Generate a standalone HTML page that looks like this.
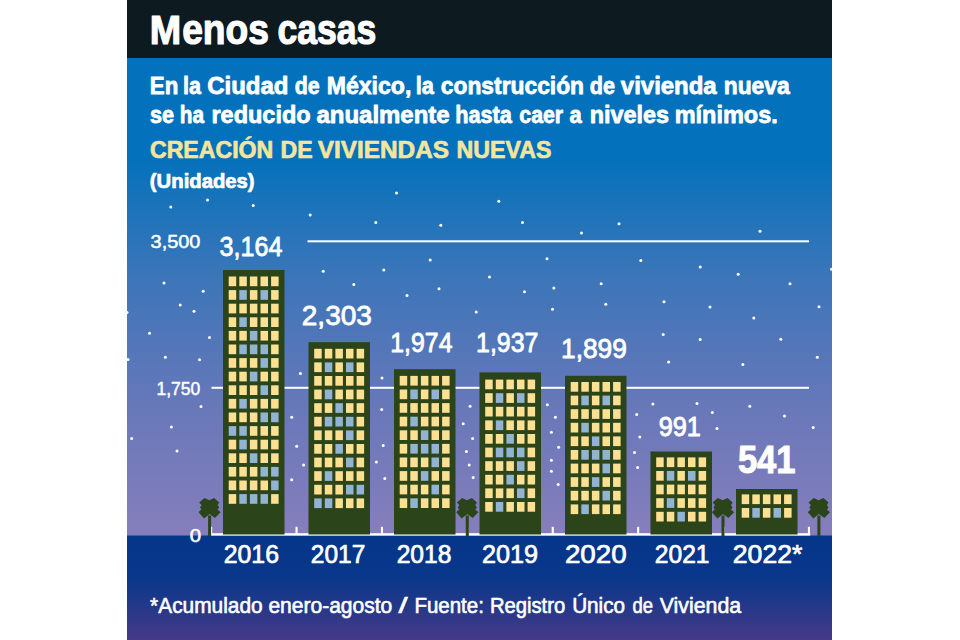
<!DOCTYPE html>
<html lang="es"><head><meta charset="utf-8"><title>Menos casas</title>
<style>
html,body{margin:0;padding:0;background:#fff;}
body{width:960px;height:640px;overflow:hidden;position:relative;}
svg{position:absolute;left:0;top:0;display:block;}
text,tspan{font-family:"Liberation Sans",sans-serif;fill:#fff;}
.b{font-weight:bold;}
</style></head><body>
<svg width="960" height="640" viewBox="0 0 960 640">
<defs>
<linearGradient id="sky" x1="0" y1="0" x2="0" y2="1">
<stop offset="0" stop-color="#0371bb"/>
<stop offset="0.205" stop-color="#0371bb"/>
<stop offset="0.297" stop-color="#1873ba"/>
<stop offset="0.448" stop-color="#3a75b9"/>
<stop offset="0.747" stop-color="#6a78b9"/>
<stop offset="1" stop-color="#877ebc"/>
</linearGradient>
<linearGradient id="gnd" x1="0" y1="0" x2="0" y2="1">
<stop offset="0" stop-color="#04368a"/>
<stop offset="0.42" stop-color="#0a378a"/>
<stop offset="1" stop-color="#453a87"/>
</linearGradient>

</defs>
<rect x="127" y="0" width="705" height="58" fill="#0d1a20"/>
<rect x="127" y="58" width="705" height="478" fill="url(#sky)"/>
<rect x="127" y="535.5" width="705" height="104.5" fill="url(#gnd)"/>

<g fill="#fff">
<circle cx="170.8" cy="207.0" r="1.5"/>
<circle cx="207.5" cy="200.0" r="1.5"/>
<circle cx="253.2" cy="205.5" r="1.5"/>
<circle cx="310.2" cy="215.0" r="1.5"/>
<circle cx="323.2" cy="271.2" r="1.5"/>
<circle cx="353.8" cy="284.5" r="1.5"/>
<circle cx="164.0" cy="283.0" r="1.5"/>
<circle cx="203.2" cy="291.2" r="1.5"/>
<circle cx="180.2" cy="305.0" r="1.5"/>
<circle cx="194.0" cy="311.2" r="1.5"/>
<circle cx="127.0" cy="312.5" r="1.5"/>
<circle cx="149.5" cy="333.2" r="1.5"/>
<circle cx="209.5" cy="337.5" r="1.5"/>
<circle cx="396.5" cy="193.0" r="1.5"/>
<circle cx="498.8" cy="201.2" r="1.5"/>
<circle cx="375.8" cy="222.5" r="1.5"/>
<circle cx="440.8" cy="225.2" r="1.5"/>
<circle cx="522.5" cy="222.5" r="1.5"/>
<circle cx="581.5" cy="233.0" r="1.5"/>
<circle cx="430.2" cy="260.0" r="1.5"/>
<circle cx="383.8" cy="270.0" r="1.5"/>
<circle cx="547.0" cy="258.8" r="1.5"/>
<circle cx="489.5" cy="277.0" r="1.5"/>
<circle cx="439.0" cy="288.8" r="1.5"/>
<circle cx="407.0" cy="295.5" r="1.5"/>
<circle cx="524.5" cy="291.8" r="1.5"/>
<circle cx="553.8" cy="288.0" r="1.5"/>
<circle cx="601.2" cy="283.8" r="1.5"/>
<circle cx="476.2" cy="312.0" r="1.5"/>
<circle cx="552.5" cy="309.2" r="1.5"/>
<circle cx="605.8" cy="304.2" r="1.5"/>
<circle cx="619.0" cy="223.8" r="1.5"/>
<circle cx="760.0" cy="231.2" r="1.5"/>
<circle cx="640.8" cy="260.5" r="1.5"/>
<circle cx="700.2" cy="267.0" r="1.5"/>
<circle cx="738.2" cy="274.2" r="1.5"/>
<circle cx="790.0" cy="283.8" r="1.5"/>
<circle cx="831.5" cy="269.2" r="1.5"/>
<circle cx="664.0" cy="301.8" r="1.5"/>
<circle cx="710.0" cy="307.0" r="1.5"/>
<circle cx="819.0" cy="306.8" r="1.5"/>
<circle cx="753.8" cy="318.0" r="1.5"/>
<circle cx="663.2" cy="334.5" r="1.5"/>
<circle cx="700.2" cy="339.5" r="1.5"/>
<circle cx="780.8" cy="339.2" r="1.5"/>
<circle cx="128.0" cy="359.4" r="1.5"/>
<circle cx="165.4" cy="357.2" r="1.5"/>
<circle cx="199.5" cy="359.7" r="1.5"/>
<circle cx="300.4" cy="373.4" r="1.5"/>
<circle cx="201.0" cy="406.6" r="1.5"/>
<circle cx="171.4" cy="426.9" r="1.5"/>
<circle cx="291.7" cy="417.2" r="1.5"/>
<circle cx="131.7" cy="438.4" r="1.5"/>
<circle cx="177.0" cy="450.9" r="1.5"/>
<circle cx="296.7" cy="446.2" r="1.5"/>
<circle cx="303.6" cy="465.0" r="1.5"/>
<circle cx="291.7" cy="479.7" r="1.5"/>
<circle cx="382.0" cy="378.1" r="1.5"/>
<circle cx="381.7" cy="409.4" r="1.5"/>
<circle cx="383.2" cy="445.6" r="1.5"/>
<circle cx="376.4" cy="461.9" r="1.5"/>
<circle cx="384.8" cy="478.4" r="1.5"/>
<circle cx="470.1" cy="406.2" r="1.5"/>
<circle cx="463.2" cy="423.8" r="1.5"/>
<circle cx="472.6" cy="438.4" r="1.5"/>
<circle cx="466.4" cy="451.6" r="1.5"/>
<circle cx="469.2" cy="465.0" r="1.5"/>
<circle cx="473.2" cy="477.5" r="1.5"/>
<circle cx="547.3" cy="404.7" r="1.5"/>
<circle cx="555.4" cy="417.2" r="1.5"/>
<circle cx="551.4" cy="432.2" r="1.5"/>
<circle cx="558.6" cy="447.2" r="1.5"/>
<circle cx="551.4" cy="460.3" r="1.5"/>
<circle cx="551.4" cy="471.2" r="1.5"/>
<circle cx="558.2" cy="484.4" r="1.5"/>
<circle cx="668.6" cy="361.9" r="1.5"/>
<circle cx="742.9" cy="364.4" r="1.5"/>
<circle cx="817.3" cy="357.2" r="1.5"/>
<circle cx="652.9" cy="404.1" r="1.5"/>
<circle cx="697.0" cy="403.4" r="1.5"/>
<circle cx="749.8" cy="406.2" r="1.5"/>
<circle cx="636.7" cy="414.4" r="1.5"/>
<circle cx="712.3" cy="412.5" r="1.5"/>
<circle cx="784.5" cy="415.9" r="1.5"/>
<circle cx="717.0" cy="428.4" r="1.5"/>
<circle cx="813.2" cy="427.5" r="1.5"/>
<circle cx="639.8" cy="436.9" r="1.5"/>
<circle cx="634.5" cy="452.5" r="1.5"/>
<circle cx="637.6" cy="467.5" r="1.5"/>
</g>
<rect x="307.5" y="240.3" width="501.5" height="2" fill="#fff"/>
<rect x="211.5" y="386.8" width="597.5" height="2" fill="#fff"/>
<rect x="210.2" y="533.2" width="600" height="2.4" fill="#fff"/>
<rect x="210.1" y="526.8" width="2.1" height="7" fill="#fff"/>
<rect x="295.5" y="526.8" width="2.1" height="7" fill="#fff"/>
<rect x="380.9" y="526.8" width="2.1" height="7" fill="#fff"/>
<rect x="466.3" y="526.8" width="2.1" height="7" fill="#fff"/>
<rect x="551.7" y="526.8" width="2.1" height="7" fill="#fff"/>
<rect x="637.1" y="526.8" width="2.1" height="7" fill="#fff"/>
<rect x="722.5" y="526.8" width="2.1" height="7" fill="#fff"/>
<rect x="807.9" y="526.8" width="2.1" height="7" fill="#fff"/>
<g transform="translate(209.6 535.5)"><rect x="-1.5" y="-20" width="3" height="20.5" fill="#2b4419"/>
<polygon fill="#2b4419" points="-5.2,-37.6 -0.3,-35.3 4.6,-37.6 9.6,-33 8,-30.5 9.6,-28 8,-26 11,-23.3 5.4,-17.6 0,-21.5 -5.6,-17 -11,-23.3 -8.2,-26.3 -9.6,-28 -8,-30.5 -10.4,-33"/></g>
<g transform="translate(467.3 535.5)"><rect x="-1.5" y="-20" width="3" height="20.5" fill="#2b4419"/>
<polygon fill="#2b4419" points="-5.2,-37.6 -0.3,-35.3 4.6,-37.6 9.6,-33 8,-30.5 9.6,-28 8,-26 11,-23.3 5.4,-17.6 0,-21.5 -5.6,-17 -11,-23.3 -8.2,-26.3 -9.6,-28 -8,-30.5 -10.4,-33"/></g>
<g transform="translate(723.0 535.5)"><rect x="-1.5" y="-20" width="3" height="20.5" fill="#2b4419"/>
<polygon fill="#2b4419" points="-5.2,-37.6 -0.3,-35.3 4.6,-37.6 9.6,-33 8,-30.5 9.6,-28 8,-26 11,-23.3 5.4,-17.6 0,-21.5 -5.6,-17 -11,-23.3 -8.2,-26.3 -9.6,-28 -8,-30.5 -10.4,-33"/></g>
<g transform="translate(818.9 535.5)"><rect x="-1.5" y="-20" width="3" height="20.5" fill="#2b4419"/>
<polygon fill="#2b4419" points="-5.2,-37.6 -0.3,-35.3 4.6,-37.6 9.6,-33 8,-30.5 9.6,-28 8,-26 11,-23.3 5.4,-17.6 0,-21.5 -5.6,-17 -11,-23.3 -8.2,-26.3 -9.6,-28 -8,-30.5 -10.4,-33"/></g>
<rect x="223.0" y="270.0" width="61.5" height="264.5" fill="#2b4419"/>
<g fill="#fde092"><rect x="228.7" y="276.5" width="7.5" height="9.7"/><rect x="239.3" y="276.5" width="7.5" height="9.7"/><rect x="249.9" y="276.5" width="7.5" height="9.7"/><rect x="260.5" y="276.5" width="7.5" height="9.7"/><rect x="271.1" y="276.5" width="7.5" height="9.7"/><rect x="228.7" y="290.1" width="7.5" height="9.7"/><rect x="249.9" y="290.1" width="7.5" height="9.7"/><rect x="271.1" y="290.1" width="7.5" height="9.7"/><rect x="228.7" y="303.7" width="7.5" height="9.7"/><rect x="239.3" y="303.7" width="7.5" height="9.7"/><rect x="249.9" y="303.7" width="7.5" height="9.7"/><rect x="260.5" y="303.7" width="7.5" height="9.7"/><rect x="271.1" y="303.7" width="7.5" height="9.7"/><rect x="228.7" y="317.3" width="7.5" height="9.7"/><rect x="249.9" y="317.3" width="7.5" height="9.7"/><rect x="260.5" y="317.3" width="7.5" height="9.7"/><rect x="271.1" y="317.3" width="7.5" height="9.7"/><rect x="228.7" y="330.9" width="7.5" height="9.7"/><rect x="239.3" y="330.9" width="7.5" height="9.7"/><rect x="260.5" y="330.9" width="7.5" height="9.7"/><rect x="271.1" y="330.9" width="7.5" height="9.7"/><rect x="228.7" y="344.5" width="7.5" height="9.7"/><rect x="271.1" y="344.5" width="7.5" height="9.7"/><rect x="228.7" y="358.1" width="7.5" height="9.7"/><rect x="239.3" y="358.1" width="7.5" height="9.7"/><rect x="249.9" y="358.1" width="7.5" height="9.7"/><rect x="271.1" y="358.1" width="7.5" height="9.7"/><rect x="228.7" y="371.7" width="7.5" height="9.7"/><rect x="239.3" y="371.7" width="7.5" height="9.7"/><rect x="260.5" y="371.7" width="7.5" height="9.7"/><rect x="271.1" y="371.7" width="7.5" height="9.7"/><rect x="228.7" y="385.3" width="7.5" height="9.7"/><rect x="239.3" y="385.3" width="7.5" height="9.7"/><rect x="249.9" y="385.3" width="7.5" height="9.7"/><rect x="271.1" y="385.3" width="7.5" height="9.7"/><rect x="228.7" y="398.9" width="7.5" height="9.7"/><rect x="249.9" y="398.9" width="7.5" height="9.7"/><rect x="260.5" y="398.9" width="7.5" height="9.7"/><rect x="271.1" y="398.9" width="7.5" height="9.7"/><rect x="228.7" y="412.5" width="7.5" height="9.7"/><rect x="239.3" y="412.5" width="7.5" height="9.7"/><rect x="249.9" y="412.5" width="7.5" height="9.7"/><rect x="249.9" y="426.1" width="7.5" height="9.7"/><rect x="260.5" y="426.1" width="7.5" height="9.7"/><rect x="271.1" y="426.1" width="7.5" height="9.7"/><rect x="228.7" y="439.7" width="7.5" height="9.7"/><rect x="249.9" y="439.7" width="7.5" height="9.7"/><rect x="260.5" y="439.7" width="7.5" height="9.7"/><rect x="271.1" y="439.7" width="7.5" height="9.7"/><rect x="228.7" y="453.3" width="7.5" height="9.7"/><rect x="239.3" y="453.3" width="7.5" height="9.7"/><rect x="260.5" y="453.3" width="7.5" height="9.7"/><rect x="271.1" y="453.3" width="7.5" height="9.7"/><rect x="228.7" y="466.9" width="7.5" height="9.7"/><rect x="239.3" y="466.9" width="7.5" height="9.7"/><rect x="249.9" y="466.9" width="7.5" height="9.7"/><rect x="228.7" y="480.5" width="7.5" height="9.7"/><rect x="239.3" y="480.5" width="7.5" height="9.7"/><rect x="249.9" y="480.5" width="7.5" height="9.7"/><rect x="260.5" y="480.5" width="7.5" height="9.7"/><rect x="228.7" y="494.1" width="7.5" height="9.7"/><rect x="271.1" y="494.1" width="7.5" height="9.7"/></g>
<g fill="#93b3d3"><rect x="239.3" y="290.1" width="7.5" height="9.7"/><rect x="260.5" y="290.1" width="7.5" height="9.7"/><rect x="239.3" y="317.3" width="7.5" height="9.7"/><rect x="249.9" y="330.9" width="7.5" height="9.7"/><rect x="239.3" y="344.5" width="7.5" height="9.7"/><rect x="249.9" y="344.5" width="7.5" height="9.7"/><rect x="260.5" y="344.5" width="7.5" height="9.7"/><rect x="260.5" y="358.1" width="7.5" height="9.7"/><rect x="249.9" y="371.7" width="7.5" height="9.7"/><rect x="260.5" y="385.3" width="7.5" height="9.7"/><rect x="239.3" y="398.9" width="7.5" height="9.7"/><rect x="260.5" y="412.5" width="7.5" height="9.7"/><rect x="271.1" y="412.5" width="7.5" height="9.7"/><rect x="228.7" y="426.1" width="7.5" height="9.7"/><rect x="239.3" y="426.1" width="7.5" height="9.7"/><rect x="239.3" y="439.7" width="7.5" height="9.7"/><rect x="249.9" y="453.3" width="7.5" height="9.7"/><rect x="260.5" y="466.9" width="7.5" height="9.7"/><rect x="271.1" y="466.9" width="7.5" height="9.7"/><rect x="271.1" y="480.5" width="7.5" height="9.7"/><rect x="239.3" y="494.1" width="7.5" height="9.7"/><rect x="249.9" y="494.1" width="7.5" height="9.7"/><rect x="260.5" y="494.1" width="7.5" height="9.7"/></g>
<rect x="308.5" y="342.2" width="61.5" height="192.3" fill="#2b4419"/>
<g fill="#fde092"><rect x="314.2" y="348.8" width="7.5" height="9.7"/><rect x="324.8" y="348.8" width="7.5" height="9.7"/><rect x="335.4" y="348.8" width="7.5" height="9.7"/><rect x="346.0" y="348.8" width="7.5" height="9.7"/><rect x="356.6" y="348.8" width="7.5" height="9.7"/><rect x="314.2" y="362.4" width="7.5" height="9.7"/><rect x="335.4" y="362.4" width="7.5" height="9.7"/><rect x="356.6" y="362.4" width="7.5" height="9.7"/><rect x="314.2" y="376.0" width="7.5" height="9.7"/><rect x="324.8" y="376.0" width="7.5" height="9.7"/><rect x="335.4" y="376.0" width="7.5" height="9.7"/><rect x="346.0" y="376.0" width="7.5" height="9.7"/><rect x="356.6" y="376.0" width="7.5" height="9.7"/><rect x="314.2" y="389.6" width="7.5" height="9.7"/><rect x="335.4" y="389.6" width="7.5" height="9.7"/><rect x="346.0" y="389.6" width="7.5" height="9.7"/><rect x="356.6" y="389.6" width="7.5" height="9.7"/><rect x="314.2" y="403.2" width="7.5" height="9.7"/><rect x="324.8" y="403.2" width="7.5" height="9.7"/><rect x="346.0" y="403.2" width="7.5" height="9.7"/><rect x="356.6" y="403.2" width="7.5" height="9.7"/><rect x="314.2" y="416.8" width="7.5" height="9.7"/><rect x="356.6" y="416.8" width="7.5" height="9.7"/><rect x="314.2" y="430.4" width="7.5" height="9.7"/><rect x="324.8" y="430.4" width="7.5" height="9.7"/><rect x="335.4" y="430.4" width="7.5" height="9.7"/><rect x="356.6" y="430.4" width="7.5" height="9.7"/><rect x="314.2" y="444.0" width="7.5" height="9.7"/><rect x="324.8" y="444.0" width="7.5" height="9.7"/><rect x="346.0" y="444.0" width="7.5" height="9.7"/><rect x="356.6" y="444.0" width="7.5" height="9.7"/><rect x="314.2" y="457.6" width="7.5" height="9.7"/><rect x="324.8" y="457.6" width="7.5" height="9.7"/><rect x="335.4" y="457.6" width="7.5" height="9.7"/><rect x="356.6" y="457.6" width="7.5" height="9.7"/><rect x="314.2" y="471.2" width="7.5" height="9.7"/><rect x="335.4" y="471.2" width="7.5" height="9.7"/><rect x="346.0" y="471.2" width="7.5" height="9.7"/><rect x="356.6" y="471.2" width="7.5" height="9.7"/><rect x="314.2" y="484.8" width="7.5" height="9.7"/><rect x="324.8" y="484.8" width="7.5" height="9.7"/><rect x="335.4" y="484.8" width="7.5" height="9.7"/><rect x="335.4" y="498.4" width="7.5" height="9.7"/><rect x="346.0" y="498.4" width="7.5" height="9.7"/><rect x="356.6" y="498.4" width="7.5" height="9.7"/></g>
<g fill="#93b3d3"><rect x="324.8" y="362.4" width="7.5" height="9.7"/><rect x="346.0" y="362.4" width="7.5" height="9.7"/><rect x="324.8" y="389.6" width="7.5" height="9.7"/><rect x="335.4" y="403.2" width="7.5" height="9.7"/><rect x="324.8" y="416.8" width="7.5" height="9.7"/><rect x="335.4" y="416.8" width="7.5" height="9.7"/><rect x="346.0" y="416.8" width="7.5" height="9.7"/><rect x="346.0" y="430.4" width="7.5" height="9.7"/><rect x="335.4" y="444.0" width="7.5" height="9.7"/><rect x="346.0" y="457.6" width="7.5" height="9.7"/><rect x="324.8" y="471.2" width="7.5" height="9.7"/><rect x="346.0" y="484.8" width="7.5" height="9.7"/><rect x="356.6" y="484.8" width="7.5" height="9.7"/><rect x="314.2" y="498.4" width="7.5" height="9.7"/><rect x="324.8" y="498.4" width="7.5" height="9.7"/></g>
<rect x="394.0" y="369.2" width="61.5" height="165.3" fill="#2b4419"/>
<g fill="#fde092"><rect x="399.7" y="375.9" width="7.5" height="9.7"/><rect x="410.3" y="375.9" width="7.5" height="9.7"/><rect x="420.9" y="375.9" width="7.5" height="9.7"/><rect x="431.5" y="375.9" width="7.5" height="9.7"/><rect x="442.1" y="375.9" width="7.5" height="9.7"/><rect x="399.7" y="389.5" width="7.5" height="9.7"/><rect x="420.9" y="389.5" width="7.5" height="9.7"/><rect x="442.1" y="389.5" width="7.5" height="9.7"/><rect x="399.7" y="403.1" width="7.5" height="9.7"/><rect x="410.3" y="403.1" width="7.5" height="9.7"/><rect x="420.9" y="403.1" width="7.5" height="9.7"/><rect x="431.5" y="403.1" width="7.5" height="9.7"/><rect x="442.1" y="403.1" width="7.5" height="9.7"/><rect x="399.7" y="416.7" width="7.5" height="9.7"/><rect x="420.9" y="416.7" width="7.5" height="9.7"/><rect x="431.5" y="416.7" width="7.5" height="9.7"/><rect x="442.1" y="416.7" width="7.5" height="9.7"/><rect x="399.7" y="430.3" width="7.5" height="9.7"/><rect x="410.3" y="430.3" width="7.5" height="9.7"/><rect x="431.5" y="430.3" width="7.5" height="9.7"/><rect x="442.1" y="430.3" width="7.5" height="9.7"/><rect x="399.7" y="443.9" width="7.5" height="9.7"/><rect x="442.1" y="443.9" width="7.5" height="9.7"/><rect x="399.7" y="457.5" width="7.5" height="9.7"/><rect x="410.3" y="457.5" width="7.5" height="9.7"/><rect x="420.9" y="457.5" width="7.5" height="9.7"/><rect x="442.1" y="457.5" width="7.5" height="9.7"/><rect x="399.7" y="471.1" width="7.5" height="9.7"/><rect x="410.3" y="471.1" width="7.5" height="9.7"/><rect x="431.5" y="471.1" width="7.5" height="9.7"/><rect x="442.1" y="471.1" width="7.5" height="9.7"/><rect x="399.7" y="484.7" width="7.5" height="9.7"/><rect x="410.3" y="484.7" width="7.5" height="9.7"/><rect x="420.9" y="484.7" width="7.5" height="9.7"/><rect x="442.1" y="484.7" width="7.5" height="9.7"/><rect x="399.7" y="498.3" width="7.5" height="9.7"/><rect x="420.9" y="498.3" width="7.5" height="9.7"/><rect x="431.5" y="498.3" width="7.5" height="9.7"/><rect x="442.1" y="498.3" width="7.5" height="9.7"/></g>
<g fill="#93b3d3"><rect x="410.3" y="389.5" width="7.5" height="9.7"/><rect x="431.5" y="389.5" width="7.5" height="9.7"/><rect x="410.3" y="416.7" width="7.5" height="9.7"/><rect x="420.9" y="430.3" width="7.5" height="9.7"/><rect x="410.3" y="443.9" width="7.5" height="9.7"/><rect x="420.9" y="443.9" width="7.5" height="9.7"/><rect x="431.5" y="443.9" width="7.5" height="9.7"/><rect x="431.5" y="457.5" width="7.5" height="9.7"/><rect x="420.9" y="471.1" width="7.5" height="9.7"/><rect x="431.5" y="484.7" width="7.5" height="9.7"/><rect x="410.3" y="498.3" width="7.5" height="9.7"/></g>
<rect x="479.5" y="372.4" width="61.5" height="162.1" fill="#2b4419"/>
<g fill="#fde092"><rect x="485.2" y="379.6" width="7.5" height="9.7"/><rect x="495.8" y="379.6" width="7.5" height="9.7"/><rect x="506.4" y="379.6" width="7.5" height="9.7"/><rect x="517.0" y="379.6" width="7.5" height="9.7"/><rect x="527.6" y="379.6" width="7.5" height="9.7"/><rect x="485.2" y="393.2" width="7.5" height="9.7"/><rect x="506.4" y="393.2" width="7.5" height="9.7"/><rect x="527.6" y="393.2" width="7.5" height="9.7"/><rect x="485.2" y="406.8" width="7.5" height="9.7"/><rect x="495.8" y="406.8" width="7.5" height="9.7"/><rect x="506.4" y="406.8" width="7.5" height="9.7"/><rect x="517.0" y="406.8" width="7.5" height="9.7"/><rect x="527.6" y="406.8" width="7.5" height="9.7"/><rect x="485.2" y="420.4" width="7.5" height="9.7"/><rect x="506.4" y="420.4" width="7.5" height="9.7"/><rect x="517.0" y="420.4" width="7.5" height="9.7"/><rect x="527.6" y="420.4" width="7.5" height="9.7"/><rect x="485.2" y="434.0" width="7.5" height="9.7"/><rect x="495.8" y="434.0" width="7.5" height="9.7"/><rect x="517.0" y="434.0" width="7.5" height="9.7"/><rect x="527.6" y="434.0" width="7.5" height="9.7"/><rect x="485.2" y="447.6" width="7.5" height="9.7"/><rect x="527.6" y="447.6" width="7.5" height="9.7"/><rect x="485.2" y="461.2" width="7.5" height="9.7"/><rect x="495.8" y="461.2" width="7.5" height="9.7"/><rect x="506.4" y="461.2" width="7.5" height="9.7"/><rect x="527.6" y="461.2" width="7.5" height="9.7"/><rect x="485.2" y="474.8" width="7.5" height="9.7"/><rect x="495.8" y="474.8" width="7.5" height="9.7"/><rect x="517.0" y="474.8" width="7.5" height="9.7"/><rect x="527.6" y="474.8" width="7.5" height="9.7"/><rect x="485.2" y="488.4" width="7.5" height="9.7"/><rect x="495.8" y="488.4" width="7.5" height="9.7"/><rect x="506.4" y="488.4" width="7.5" height="9.7"/><rect x="527.6" y="488.4" width="7.5" height="9.7"/><rect x="485.2" y="502.0" width="7.5" height="9.7"/><rect x="506.4" y="502.0" width="7.5" height="9.7"/><rect x="517.0" y="502.0" width="7.5" height="9.7"/><rect x="527.6" y="502.0" width="7.5" height="9.7"/></g>
<g fill="#93b3d3"><rect x="495.8" y="393.2" width="7.5" height="9.7"/><rect x="517.0" y="393.2" width="7.5" height="9.7"/><rect x="495.8" y="420.4" width="7.5" height="9.7"/><rect x="506.4" y="434.0" width="7.5" height="9.7"/><rect x="495.8" y="447.6" width="7.5" height="9.7"/><rect x="506.4" y="447.6" width="7.5" height="9.7"/><rect x="517.0" y="447.6" width="7.5" height="9.7"/><rect x="517.0" y="461.2" width="7.5" height="9.7"/><rect x="506.4" y="474.8" width="7.5" height="9.7"/><rect x="517.0" y="488.4" width="7.5" height="9.7"/><rect x="495.8" y="502.0" width="7.5" height="9.7"/></g>
<rect x="565.0" y="375.8" width="61.5" height="158.7" fill="#2b4419"/>
<g fill="#fde092"><rect x="570.7" y="382.0" width="7.5" height="9.7"/><rect x="581.3" y="382.0" width="7.5" height="9.7"/><rect x="591.9" y="382.0" width="7.5" height="9.7"/><rect x="602.5" y="382.0" width="7.5" height="9.7"/><rect x="613.1" y="382.0" width="7.5" height="9.7"/><rect x="570.7" y="395.6" width="7.5" height="9.7"/><rect x="591.9" y="395.6" width="7.5" height="9.7"/><rect x="613.1" y="395.6" width="7.5" height="9.7"/><rect x="570.7" y="409.2" width="7.5" height="9.7"/><rect x="581.3" y="409.2" width="7.5" height="9.7"/><rect x="591.9" y="409.2" width="7.5" height="9.7"/><rect x="602.5" y="409.2" width="7.5" height="9.7"/><rect x="613.1" y="409.2" width="7.5" height="9.7"/><rect x="570.7" y="422.8" width="7.5" height="9.7"/><rect x="591.9" y="422.8" width="7.5" height="9.7"/><rect x="602.5" y="422.8" width="7.5" height="9.7"/><rect x="613.1" y="422.8" width="7.5" height="9.7"/><rect x="570.7" y="436.4" width="7.5" height="9.7"/><rect x="581.3" y="436.4" width="7.5" height="9.7"/><rect x="602.5" y="436.4" width="7.5" height="9.7"/><rect x="613.1" y="436.4" width="7.5" height="9.7"/><rect x="570.7" y="450.0" width="7.5" height="9.7"/><rect x="613.1" y="450.0" width="7.5" height="9.7"/><rect x="570.7" y="463.6" width="7.5" height="9.7"/><rect x="581.3" y="463.6" width="7.5" height="9.7"/><rect x="591.9" y="463.6" width="7.5" height="9.7"/><rect x="613.1" y="463.6" width="7.5" height="9.7"/><rect x="570.7" y="477.2" width="7.5" height="9.7"/><rect x="581.3" y="477.2" width="7.5" height="9.7"/><rect x="602.5" y="477.2" width="7.5" height="9.7"/><rect x="613.1" y="477.2" width="7.5" height="9.7"/><rect x="570.7" y="490.8" width="7.5" height="9.7"/><rect x="581.3" y="490.8" width="7.5" height="9.7"/><rect x="591.9" y="490.8" width="7.5" height="9.7"/><rect x="613.1" y="490.8" width="7.5" height="9.7"/><rect x="570.7" y="504.4" width="7.5" height="9.7"/><rect x="591.9" y="504.4" width="7.5" height="9.7"/><rect x="602.5" y="504.4" width="7.5" height="9.7"/><rect x="613.1" y="504.4" width="7.5" height="9.7"/></g>
<g fill="#93b3d3"><rect x="581.3" y="395.6" width="7.5" height="9.7"/><rect x="602.5" y="395.6" width="7.5" height="9.7"/><rect x="581.3" y="422.8" width="7.5" height="9.7"/><rect x="591.9" y="436.4" width="7.5" height="9.7"/><rect x="581.3" y="450.0" width="7.5" height="9.7"/><rect x="591.9" y="450.0" width="7.5" height="9.7"/><rect x="602.5" y="450.0" width="7.5" height="9.7"/><rect x="602.5" y="463.6" width="7.5" height="9.7"/><rect x="591.9" y="477.2" width="7.5" height="9.7"/><rect x="602.5" y="490.8" width="7.5" height="9.7"/><rect x="581.3" y="504.4" width="7.5" height="9.7"/></g>
<rect x="650.5" y="451.5" width="61.5" height="83.0" fill="#2b4419"/>
<g fill="#fde092"><rect x="656.2" y="457.4" width="7.5" height="9.7"/><rect x="666.8" y="457.4" width="7.5" height="9.7"/><rect x="677.4" y="457.4" width="7.5" height="9.7"/><rect x="688.0" y="457.4" width="7.5" height="9.7"/><rect x="698.6" y="457.4" width="7.5" height="9.7"/><rect x="656.2" y="471.0" width="7.5" height="9.7"/><rect x="677.4" y="471.0" width="7.5" height="9.7"/><rect x="698.6" y="471.0" width="7.5" height="9.7"/><rect x="656.2" y="484.6" width="7.5" height="9.7"/><rect x="666.8" y="484.6" width="7.5" height="9.7"/><rect x="677.4" y="484.6" width="7.5" height="9.7"/><rect x="688.0" y="484.6" width="7.5" height="9.7"/><rect x="698.6" y="484.6" width="7.5" height="9.7"/><rect x="656.2" y="498.2" width="7.5" height="9.7"/><rect x="677.4" y="498.2" width="7.5" height="9.7"/><rect x="688.0" y="498.2" width="7.5" height="9.7"/><rect x="698.6" y="498.2" width="7.5" height="9.7"/><rect x="656.2" y="511.8" width="7.5" height="9.7"/><rect x="666.8" y="511.8" width="7.5" height="9.7"/><rect x="688.0" y="511.8" width="7.5" height="9.7"/><rect x="698.6" y="511.8" width="7.5" height="9.7"/></g>
<g fill="#93b3d3"><rect x="666.8" y="471.0" width="7.5" height="9.7"/><rect x="688.0" y="471.0" width="7.5" height="9.7"/><rect x="666.8" y="498.2" width="7.5" height="9.7"/><rect x="677.4" y="511.8" width="7.5" height="9.7"/></g>
<rect x="736.0" y="489.0" width="61.5" height="45.5" fill="#2b4419"/>
<g fill="#fde092"><rect x="741.7" y="494.4" width="7.5" height="9.7"/><rect x="752.3" y="494.4" width="7.5" height="9.7"/><rect x="762.9" y="494.4" width="7.5" height="9.7"/><rect x="773.5" y="494.4" width="7.5" height="9.7"/><rect x="784.1" y="494.4" width="7.5" height="9.7"/><rect x="741.7" y="508.0" width="7.5" height="9.7"/><rect x="762.9" y="508.0" width="7.5" height="9.7"/><rect x="784.1" y="508.0" width="7.5" height="9.7"/></g>
<g fill="#93b3d3"><rect x="752.3" y="508.0" width="7.5" height="9.7"/><rect x="773.5" y="508.0" width="7.5" height="9.7"/></g>
<text><tspan x="149.8" y="43.9" font-size="40.6" textLength="31.36" lengthAdjust="spacingAndGlyphs" class="b" stroke="#fff" stroke-width="1.2" stroke-linejoin="round">M</tspan><tspan x="182.19" y="43.9" font-size="42.4" textLength="86.78" lengthAdjust="spacingAndGlyphs" class="b" stroke="#fff" stroke-width="1.2" stroke-linejoin="round">enos</tspan> <tspan x="277.49" y="43.9" font-size="42.4" textLength="98.9" lengthAdjust="spacingAndGlyphs" class="b" stroke="#fff" stroke-width="1.2" stroke-linejoin="round">casas</tspan></text>
<text><tspan x="149.82" y="93.8" font-size="24.4" textLength="28.5" lengthAdjust="spacingAndGlyphs" class="b" stroke="#fff" stroke-width="0.8" stroke-linejoin="round">En</tspan> <tspan x="183.06" y="93.8" font-size="24.4" textLength="17.91" lengthAdjust="spacingAndGlyphs" class="b" stroke="#fff" stroke-width="0.8" stroke-linejoin="round">la</tspan> <tspan x="207.16" y="93.8" font-size="24.4" textLength="81.23" lengthAdjust="spacingAndGlyphs" class="b" stroke="#fff" stroke-width="0.8" stroke-linejoin="round">Ciudad</tspan> <tspan x="294.77" y="93.8" font-size="24.4" textLength="24.93" lengthAdjust="spacingAndGlyphs" class="b" stroke="#fff" stroke-width="0.8" stroke-linejoin="round">de</tspan> <tspan x="326.71" y="93.8" font-size="24.4" textLength="84.67" lengthAdjust="spacingAndGlyphs" class="b" stroke="#fff" stroke-width="0.8" stroke-linejoin="round">México,</tspan> <tspan x="415.68" y="93.8" font-size="24.4" textLength="18.11" lengthAdjust="spacingAndGlyphs" class="b" stroke="#fff" stroke-width="0.8" stroke-linejoin="round">la</tspan> <tspan x="440.8" y="93.8" font-size="24.4" textLength="143.25" lengthAdjust="spacingAndGlyphs" class="b" stroke="#fff" stroke-width="0.8" stroke-linejoin="round">construcción</tspan> <tspan x="589.73" y="93.8" font-size="24.4" textLength="25.17" lengthAdjust="spacingAndGlyphs" class="b" stroke="#fff" stroke-width="0.8" stroke-linejoin="round">de</tspan> <tspan x="620.86" y="93.8" font-size="24.4" textLength="95.83" lengthAdjust="spacingAndGlyphs" class="b" stroke="#fff" stroke-width="0.8" stroke-linejoin="round">vivienda</tspan> <tspan x="723.71" y="93.8" font-size="24.4" textLength="65.95" lengthAdjust="spacingAndGlyphs" class="b" stroke="#fff" stroke-width="0.8" stroke-linejoin="round">nueva</tspan></text>
<text><tspan x="149.98" y="122.8" font-size="24.4" textLength="24.01" lengthAdjust="spacingAndGlyphs" class="b" stroke="#fff" stroke-width="0.8" stroke-linejoin="round">se</tspan> <tspan x="179.82" y="122.8" font-size="24.4" textLength="24.25" lengthAdjust="spacingAndGlyphs" class="b" stroke="#fff" stroke-width="0.8" stroke-linejoin="round">ha</tspan> <tspan x="211.46" y="122.8" font-size="24.4" textLength="99.21" lengthAdjust="spacingAndGlyphs" class="b" stroke="#fff" stroke-width="0.8" stroke-linejoin="round">reducido</tspan> <tspan x="316.47" y="122.8" font-size="24.4" textLength="133.17" lengthAdjust="spacingAndGlyphs" class="b" stroke="#fff" stroke-width="0.8" stroke-linejoin="round">anualmente</tspan> <tspan x="455.19" y="122.8" font-size="24.4" textLength="56.62" lengthAdjust="spacingAndGlyphs" class="b" stroke="#fff" stroke-width="0.8" stroke-linejoin="round">hasta</tspan> <tspan x="519.34" y="122.8" font-size="24.4" textLength="43.81" lengthAdjust="spacingAndGlyphs" class="b" stroke="#fff" stroke-width="0.8" stroke-linejoin="round">caer</tspan> <tspan x="569.4" y="122.8" font-size="24.4" textLength="12.18" lengthAdjust="spacingAndGlyphs" class="b" stroke="#fff" stroke-width="0.8" stroke-linejoin="round">a</tspan> <tspan x="589.71" y="122.8" font-size="24.4" textLength="79.33" lengthAdjust="spacingAndGlyphs" class="b" stroke="#fff" stroke-width="0.8" stroke-linejoin="round">niveles</tspan> <tspan x="674.68" y="122.8" font-size="24.4" textLength="103.09" lengthAdjust="spacingAndGlyphs" class="b" stroke="#fff" stroke-width="0.8" stroke-linejoin="round">mínimos.</tspan></text>
<text><tspan x="149.95" y="157.5" font-size="24.4" textLength="123.34" lengthAdjust="spacingAndGlyphs" class="b" style="fill:#f5e59c" stroke="#f5e59c" stroke-width="0.7" stroke-linejoin="round">CREACIÓN</tspan> <tspan x="280.57" y="157.5" font-size="24.4" textLength="32.09" lengthAdjust="spacingAndGlyphs" class="b" style="fill:#f5e59c" stroke="#f5e59c" stroke-width="0.7" stroke-linejoin="round">DE</tspan> <tspan x="317.67" y="157.5" font-size="24.4" textLength="131.43" lengthAdjust="spacingAndGlyphs" class="b" style="fill:#f5e59c" stroke="#f5e59c" stroke-width="0.7" stroke-linejoin="round">VIVIENDAS</tspan> <tspan x="456.48" y="157.5" font-size="24.4" textLength="94.92" lengthAdjust="spacingAndGlyphs" class="b" style="fill:#f5e59c" stroke="#f5e59c" stroke-width="0.7" stroke-linejoin="round">NUEVAS</tspan></text>
<text><tspan x="149.88" y="187.7" font-size="19.8" textLength="104.73" lengthAdjust="spacingAndGlyphs" class="b" stroke="#fff" stroke-width="0.7" stroke-linejoin="round">(Unidades)</tspan></text>
<text><tspan x="150.62" y="248.4" font-size="18.6" textLength="49.76" lengthAdjust="spacingAndGlyphs" stroke="#fff" stroke-width="0.5" stroke-linejoin="round">3,500</tspan></text>
<text><tspan x="156.5" y="394.9" font-size="18.6" textLength="43.79" lengthAdjust="spacingAndGlyphs" stroke="#fff" stroke-width="0.5" stroke-linejoin="round">1,750</tspan></text>
<text><tspan x="189.86" y="541.7" font-size="18" textLength="11.35" lengthAdjust="spacingAndGlyphs" stroke="#fff" stroke-width="0.5" stroke-linejoin="round">0</tspan></text>
<text><tspan x="219.6" y="256.2" font-size="27.2" textLength="62.76" lengthAdjust="spacingAndGlyphs" stroke="#fff" stroke-width="0.8" stroke-linejoin="round">3,164</tspan></text>
<text><tspan x="301.79" y="325.4" font-size="27.2" textLength="70.11" lengthAdjust="spacingAndGlyphs" stroke="#fff" stroke-width="0.8" stroke-linejoin="round">2,303</tspan></text>
<text><tspan x="390.3" y="352.3" font-size="27.2" textLength="62.15" lengthAdjust="spacingAndGlyphs" stroke="#fff" stroke-width="0.8" stroke-linejoin="round">1,974</tspan></text>
<text><tspan x="476.02" y="352.3" font-size="27.2" textLength="62.43" lengthAdjust="spacingAndGlyphs" stroke="#fff" stroke-width="0.8" stroke-linejoin="round">1,937</tspan></text>
<text><tspan x="561.04" y="358" font-size="27.2" textLength="65.84" lengthAdjust="spacingAndGlyphs" stroke="#fff" stroke-width="0.8" stroke-linejoin="round">1,899</tspan></text>
<text><tspan x="658.65" y="435.8" font-size="27.0" textLength="42.22" lengthAdjust="spacingAndGlyphs" stroke="#fff" stroke-width="0.9" stroke-linejoin="round">991</tspan></text>
<text><tspan x="737.88" y="473.0" font-size="38" textLength="57.69" lengthAdjust="spacingAndGlyphs" class="b" stroke="#fff" stroke-width="1.0" stroke-linejoin="round">541</tspan></text>
<text><tspan x="223.76" y="563.3" font-size="25" textLength="55.19" lengthAdjust="spacingAndGlyphs" stroke="#fff" stroke-width="0.7" stroke-linejoin="round">2016</tspan></text>
<text><tspan x="310.85" y="563.3" font-size="25" textLength="54.42" lengthAdjust="spacingAndGlyphs" stroke="#fff" stroke-width="0.7" stroke-linejoin="round">2017</tspan></text>
<text><tspan x="396.65" y="563.3" font-size="25" textLength="54.73" lengthAdjust="spacingAndGlyphs" stroke="#fff" stroke-width="0.7" stroke-linejoin="round">2018</tspan></text>
<text><tspan x="481.93" y="563.3" font-size="25" textLength="56.13" lengthAdjust="spacingAndGlyphs" stroke="#fff" stroke-width="0.7" stroke-linejoin="round">2019</tspan></text>
<text><tspan x="564.9" y="563.3" font-size="25" textLength="61.8" lengthAdjust="spacingAndGlyphs" stroke="#fff" stroke-width="0.7" stroke-linejoin="round">2020</tspan></text>
<text><tspan x="654.8" y="563.3" font-size="25" textLength="54.7" lengthAdjust="spacingAndGlyphs" stroke="#fff" stroke-width="0.7" stroke-linejoin="round">2021</tspan></text>
<text><tspan x="732.82" y="563.3" font-size="25" textLength="69.62" lengthAdjust="spacingAndGlyphs" stroke="#fff" stroke-width="0.7" stroke-linejoin="round">2022*</tspan></text>
<text><tspan x="150.11" y="613.3" font-size="21.2" textLength="112.6" lengthAdjust="spacingAndGlyphs" stroke="#fff" stroke-width="0.6" stroke-linejoin="round">*Acumulado</tspan> <tspan x="268.42" y="613.3" font-size="21.2" textLength="123.83" lengthAdjust="spacingAndGlyphs" stroke="#fff" stroke-width="0.6" stroke-linejoin="round">enero-agosto</tspan> <tspan x="398.59" y="613.3" font-size="21.2" textLength="9.08" lengthAdjust="spacingAndGlyphs" stroke="#fff" stroke-width="0.6" stroke-linejoin="round">/</tspan> <tspan x="414.45" y="613.3" font-size="21.2" textLength="69.46" lengthAdjust="spacingAndGlyphs" stroke="#fff" stroke-width="0.6" stroke-linejoin="round">Fuente:</tspan> <tspan x="489.88" y="613.3" font-size="21.2" textLength="75.34" lengthAdjust="spacingAndGlyphs" stroke="#fff" stroke-width="0.6" stroke-linejoin="round">Registro</tspan> <tspan x="572.15" y="613.3" font-size="21.2" textLength="52.91" lengthAdjust="spacingAndGlyphs" stroke="#fff" stroke-width="0.6" stroke-linejoin="round">Único</tspan> <tspan x="632.45" y="613.3" font-size="21.2" textLength="20.53" lengthAdjust="spacingAndGlyphs" stroke="#fff" stroke-width="0.6" stroke-linejoin="round">de</tspan> <tspan x="659.77" y="613.3" font-size="21.2" textLength="81.39" lengthAdjust="spacingAndGlyphs" stroke="#fff" stroke-width="0.6" stroke-linejoin="round">Vivienda</tspan></text>
</svg></body></html>
